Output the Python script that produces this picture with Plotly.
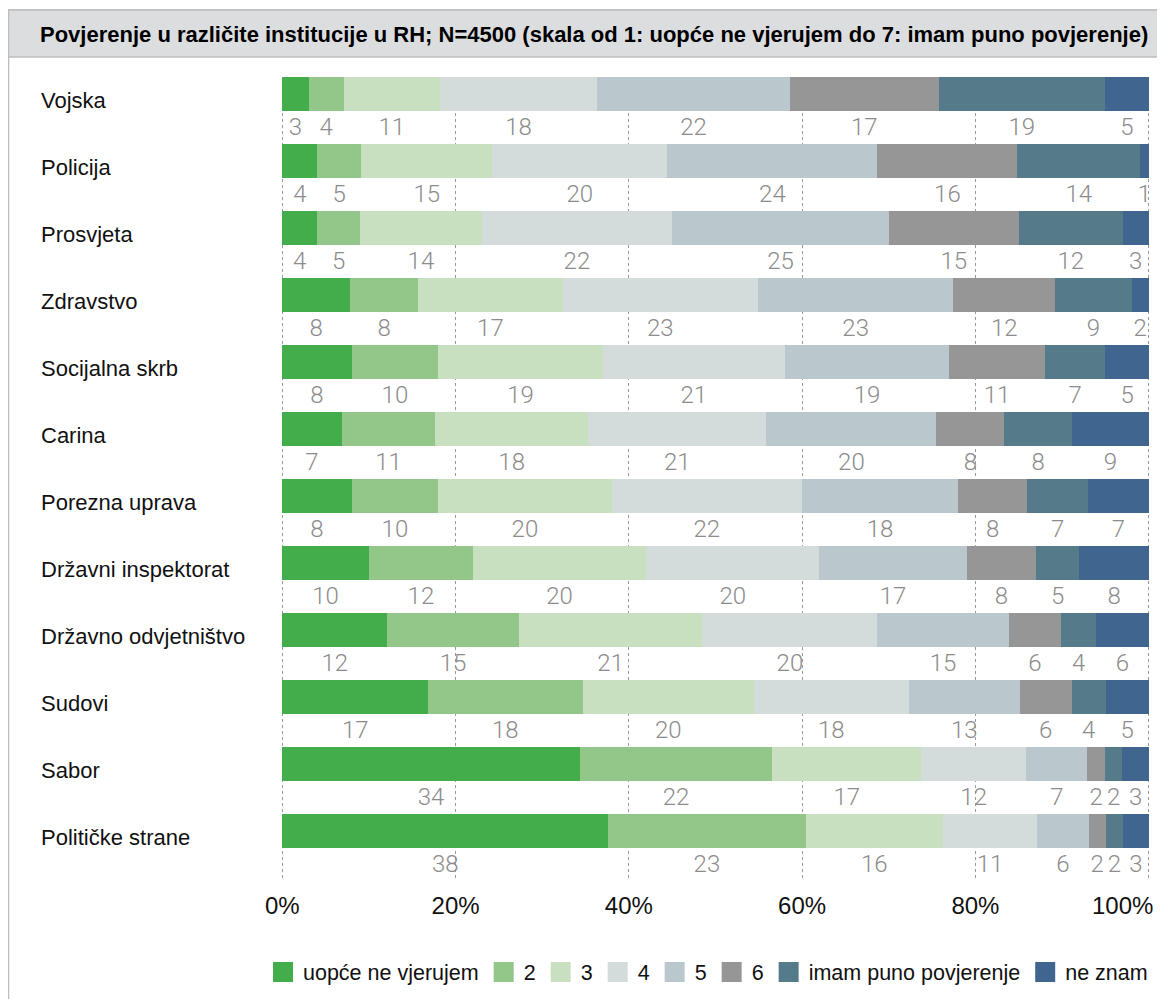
import plotly.graph_objects as go

categories = [
    "Vojska", "Policija", "Prosvjeta", "Zdravstvo", "Socijalna skrb", "Carina",
    "Porezna uprava", "Državni inspektorat", "Državno odvjetništvo", "Sudovi",
    "Sabor", "Političke strane",
]
series_names = [
    "uopće ne vjerujem", "2", "3", "4", "5", "6", "imam puno povjerenje", "ne znam",
]
series_colors = [
    "#42ad4a", "#93c78a", "#c8e0c0", "#d3dbdb", "#bac7cc", "#969696", "#557a8a", "#40668f",
]
# one list per category, in series order
values = [
    [3, 4, 11, 18, 22, 17, 19, 5],
    [4, 5, 15, 20, 24, 16, 14, 1],
    [4, 5, 14, 22, 25, 15, 12, 3],
    [8, 8, 17, 23, 23, 12, 9, 2],
    [8, 10, 19, 21, 19, 11, 7, 5],
    [7, 11, 18, 21, 20, 8, 8, 9],
    [8, 10, 20, 22, 18, 8, 7, 7],
    [10, 12, 20, 20, 17, 8, 5, 8],
    [12, 15, 21, 20, 15, 6, 4, 6],
    [17, 18, 20, 18, 13, 6, 4, 5],
    [34, 22, 17, 12, 7, 2, 2, 3],
    [38, 23, 16, 11, 6, 2, 2, 3],
]
tick_vals = [0, 20, 40, 60, 80, 100]
tick_text = ["0%", "20%", "40%", "60%", "80%", "100%"]

TITLE = ("Povjerenje u različite institucije u RH; N=4500 "
         "(skala od 1: uopće ne vjerujem do 7: imam puno povjerenje)")
NARROW = "'Liberation Sans Narrow', 'Arial Narrow', sans-serif"
SANS = "'Liberation Sans', Arial, sans-serif"
NUM_FONT = "Roboto, 'Liberation Sans', sans-serif"
LABEL_OFFSET = 0.52

# the page body adds an 8px margin, so work in page pixels and shift
PAGE_OFF = 8
W, H = 1149, 991
ML, MR, MT, MB = 273, 7, 69, 119
PW, PH = W - ML - MR, H - MT - MB


def px_x(p):
    return (p - PAGE_OFF - ML) / PW


def px_y(p):
    return (H - MB - (p - PAGE_OFF)) / PH


rows = list(range(len(categories)))
fig = go.Figure()

for s, name in enumerate(series_names):
    fig.add_trace(
        go.Bar(
            y=rows,
            x=[row[s] for row in values],
            name=name,
            legendgroup=name,
            showlegend=False,
            orientation="h",
            width=0.51,
            marker={"color": series_colors[s], "line": {"width": 0}},
            hoverinfo="skip",
        )
    )

# legend entries with bigger square swatches
for s, name in enumerate(series_names):
    fig.add_trace(
        go.Scatter(
            x=[None], y=[None], mode="markers", name=name, legendgroup=name,
            marker={"symbol": "square", "size": 16, "color": series_colors[s],
                    "line": {"color": series_colors[s], "width": 4}},
            hoverinfo="skip",
        )
    )

# value labels under each segment, centred on the normalised segment
lx, ly, lt = [], [], []
for i, row in enumerate(values):
    total = sum(row)
    cum = 0
    for v in row:
        lx.append((cum + v / 2) / total * 100)
        ly.append(i + LABEL_OFFSET)
        lt.append(str(v))
        cum += v
fig.add_trace(
    go.Scatter(
        x=lx, y=ly, text=lt, mode="text", showlegend=False, hoverinfo="skip",
        textfont={"family": NUM_FONT, "size": 24, "color": "#8c8c8c", "weight": 300},
    )
)

annotations = [
    dict(
        text=cat, x=px_x(39), xref="paper", y=i, yref="y", xanchor="left",
        yanchor="middle", yshift=-6, showarrow=False,
        font={"family": SANS, "size": 22, "color": "#111111"},
    )
    for i, cat in enumerate(categories)
]
annotations.append(
    dict(
        text="<b>" + TITLE + "</b>", x=px_x(38), xref="paper", y=px_y(34), yref="paper",
        xanchor="left", yanchor="middle", showarrow=False,
        font={"family": NARROW, "size": 22, "color": "#000000"},
    )
)
# last tick label is pulled inside the page edge, as in the original
annotations.append(
    dict(
        text=tick_text[-1], x=tick_vals[-1], xref="x", y=px_y(906), yref="paper",
        xanchor="right", yanchor="middle", xshift=6, showarrow=False,
        font={"family": SANS, "size": 24, "color": "#111111"},
    )
)

shapes = [
    # outer frame
    dict(type="rect", xref="paper", yref="paper", x0=px_x(8.5), x1=px_x(1175),
         y0=px_y(1020), y1=px_y(10), line={"color": "#bdbdbd", "width": 1.5},
         fillcolor="rgba(0,0,0,0)", layer="below"),
    # title band
    dict(type="rect", xref="paper", yref="paper", x0=px_x(8.5), x1=px_x(1175),
         y0=px_y(57), y1=px_y(10), line={"color": "#bdbdbd", "width": 1.5},
         fillcolor="#dcdddf", layer="below"),
]

fig.update_layout(
    width=W,
    height=H,
    barmode="stack",
    barnorm="percent",
    bargap=0,
    margin={"l": ML, "r": MR, "t": MT, "b": MB, "autoexpand": False},
    paper_bgcolor="white",
    plot_bgcolor="white",
    showlegend=True,
    legend={
        "orientation": "h",
        "x": px_x(263), "xanchor": "left",
        "y": px_y(972), "yanchor": "middle",
        "font": {"family": NARROW, "size": 21.5, "color": "#111111"},
        "traceorder": "normal", "itemwidth": 30, "itemsizing": "trace",
    },
    xaxis={
        "range": [-0.15, 100.15], "tickvals": tick_vals,
        "ticktext": tick_text[:-1] + [""],
        "showgrid": True, "gridcolor": "#9a9a9a", "griddash": "dot", "gridwidth": 1,
        "zeroline": False, "showline": False, "ticks": "outside", "ticklen": 4,
        "tickcolor": "rgba(0,0,0,0)",
        "tickfont": {"family": SANS, "size": 24, "color": "#111111"},
        "fixedrange": True,
    },
    yaxis={
        "range": [len(categories) - 1 + 0.73, -0.254], "showticklabels": False,
        "showgrid": False, "zeroline": False, "fixedrange": True,
    },
    annotations=annotations,
    shapes=shapes,
)

fig.write_html("out.html")
